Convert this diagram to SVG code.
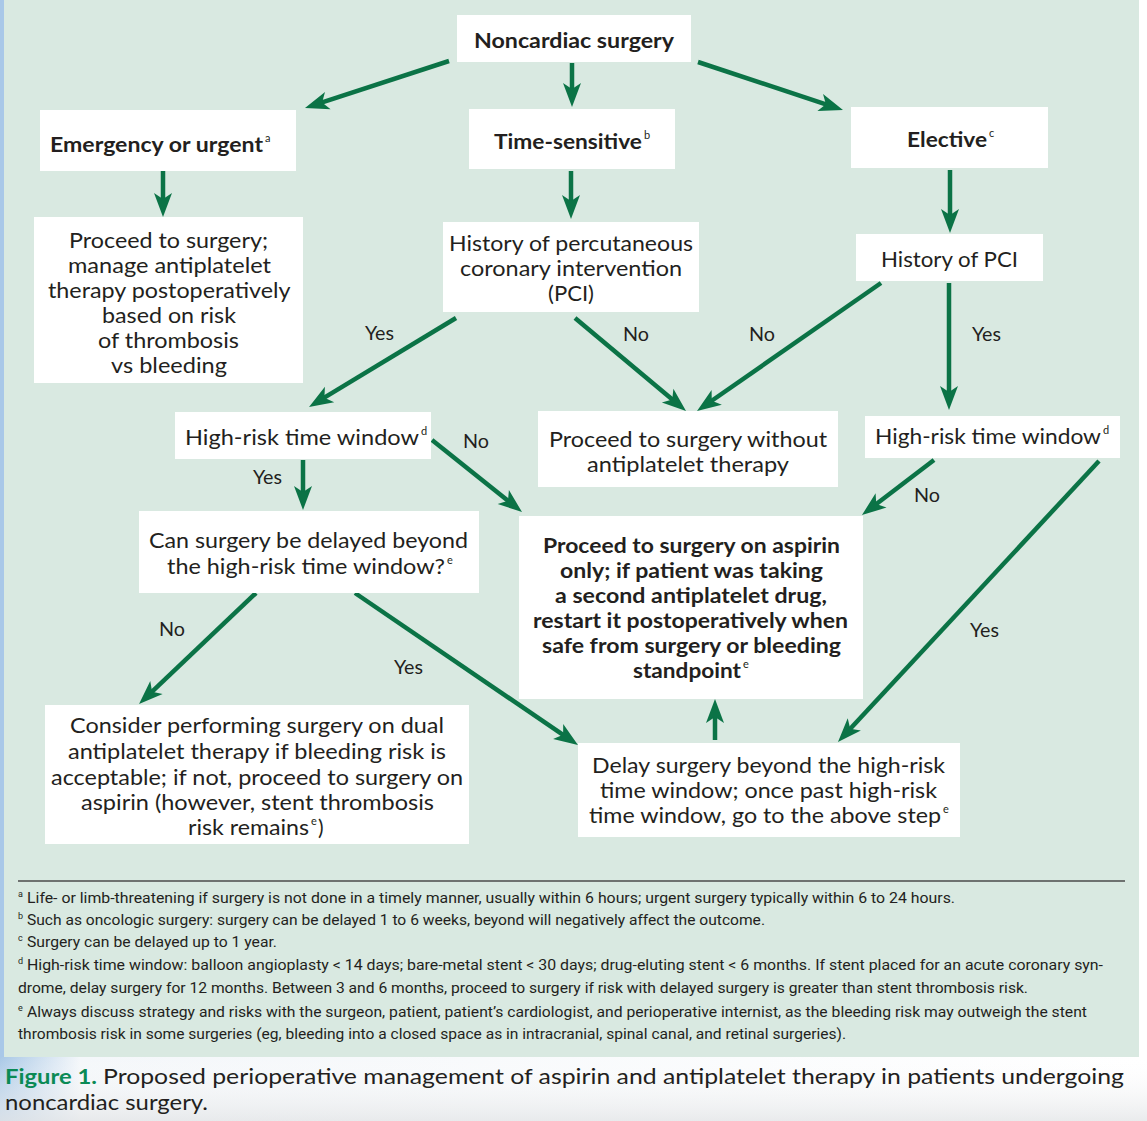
<svg xmlns="http://www.w3.org/2000/svg" width="1147" height="1121" viewBox="0 0 1147 1121">
<defs>
<style>
.box{fill:#ffffff}
.t{font-family:Lato,"Open Sans",sans-serif;font-size:21px;fill:#231f20}
.b{font-weight:700;font-size:21.5px}
.sup{font-size:11px;font-weight:400}
.lbl{font-family:Lato,"Open Sans",sans-serif;font-size:20px;fill:#231f20}
.fn{font-family:Roboto,"Liberation Sans",sans-serif;font-size:15px;fill:#231f20}
.fsup{font-size:9px}
.cap{font-family:Lato,"Open Sans",sans-serif;font-size:21.5px;fill:#231f20}
.arrow{stroke:#0b7346;stroke-width:4.5;fill:none;marker-end:url(#ah)}
</style>
<marker id="ah" markerUnits="userSpaceOnUse" viewBox="-12 -10 30 20" refX="0" refY="0" markerWidth="30" markerHeight="20" orient="auto" overflow="visible">
<path d="M14,0 L-10,-9 L-4,0 L-10,9 Z" fill="#0b7346"/>
</marker>
<linearGradient id="capg" x1="0" y1="0" x2="1" y2="0">
<stop offset="0" stop-color="#a9c8e6"/>
<stop offset="0.07" stop-color="#f4f7fa"/>
<stop offset="1" stop-color="#ffffff"/>
</linearGradient>
<linearGradient id="capv" x1="0" y1="0" x2="0" y2="1">
<stop offset="0" stop-color="#ffffff" stop-opacity="0"/>
<stop offset="1" stop-color="#e4e6e8" stop-opacity="0.8"/>
</linearGradient>
</defs>

<!-- background -->
<rect x="0" y="0" width="1147" height="1121" fill="#ffffff"/>
<rect x="0" y="1057" width="1147" height="64" fill="url(#capg)"/>
<rect x="0" y="1057" width="1147" height="64" fill="url(#capv)"/>
<rect x="0" y="0" width="1139" height="1057" fill="#d9e9e1"/>
<rect x="0" y="0" width="4" height="1057" fill="#a9c8e8"/>

<!-- connectors -->
<g id="connectors">
<line class="arrow" x1="449" y1="61" x2="318.3" y2="103.7"/>
<line class="arrow" x1="572" y1="63" x2="572" y2="93"/>
<line class="arrow" x1="698" y1="62" x2="829.7" y2="105.6"/>
<line class="arrow" x1="163" y1="171" x2="163" y2="203"/>
<line class="arrow" x1="571" y1="171" x2="571" y2="205"/>
<line class="arrow" x1="950" y1="170" x2="950" y2="219"/>
<line class="arrow" x1="456" y1="318" x2="321" y2="399.7"/>
<line class="arrow" x1="575" y1="318" x2="675.3" y2="402"/>
<line class="arrow" x1="881" y1="283" x2="708.5" y2="403"/>
<line class="arrow" x1="949" y1="283" x2="949" y2="396"/>
<line class="arrow" x1="303" y1="460" x2="303" y2="496"/>
<line class="arrow" x1="432" y1="440" x2="511.1" y2="503.3"/>
<line class="arrow" x1="934" y1="460" x2="873.1" y2="506.5"/>
<line class="arrow" x1="1099" y1="461" x2="847.5" y2="731.7"/>
<line class="arrow" x1="256" y1="593" x2="149.2" y2="694.4"/>
<line class="arrow" x1="355" y1="593" x2="566.4" y2="737.1"/>
<line class="arrow" x1="715" y1="740" x2="715" y2="713"/>
</g>

<!-- connector labels -->
<g id="labels">
<text class="lbl" x="365" y="340" textLength="29" lengthAdjust="spacingAndGlyphs">Yes</text>
<text class="lbl" x="623" y="341" textLength="26" lengthAdjust="spacingAndGlyphs">No</text>
<text class="lbl" x="749" y="341" textLength="26" lengthAdjust="spacingAndGlyphs">No</text>
<text class="lbl" x="972" y="341" textLength="29" lengthAdjust="spacingAndGlyphs">Yes</text>
<text class="lbl" x="253" y="484" textLength="29" lengthAdjust="spacingAndGlyphs">Yes</text>
<text class="lbl" x="463" y="448" textLength="26" lengthAdjust="spacingAndGlyphs">No</text>
<text class="lbl" x="914" y="502" textLength="26" lengthAdjust="spacingAndGlyphs">No</text>
<text class="lbl" x="970" y="637" textLength="29" lengthAdjust="spacingAndGlyphs">Yes</text>
<text class="lbl" x="159" y="636" textLength="26" lengthAdjust="spacingAndGlyphs">No</text>
<text class="lbl" x="394" y="674" textLength="29" lengthAdjust="spacingAndGlyphs">Yes</text>
</g>

<!-- nodes -->
<g id="n-noncardiac">
<rect class="box" x="457" y="15" width="234" height="47"/>
<text class="t b" x="474" y="48" textLength="200" lengthAdjust="spacingAndGlyphs">Noncardiac surgery</text>
</g>

<g id="n-emergency">
<rect class="box" x="40" y="110" width="256" height="61"/>
<text class="t b" x="50" y="152" textLength="213" lengthAdjust="spacingAndGlyphs">Emergency or urgent</text>
<text class="t sup" x="265" y="142">a</text>
</g>

<g id="n-timesensitive">
<rect class="box" x="469" y="109" width="206" height="60"/>
<text class="t b" x="494" y="149" textLength="148" lengthAdjust="spacingAndGlyphs">Time-sensitive</text>
<text class="t sup" x="644" y="139">b</text>
</g>

<g id="n-elective">
<rect class="box" x="851" y="107" width="197" height="61"/>
<text class="t b" x="907" y="147" textLength="80" lengthAdjust="spacingAndGlyphs">Elective</text>
<text class="t sup" x="989" y="137">c</text>
</g>

<g id="n-proceed-manage">
<rect class="box" x="34" y="217" width="269" height="166"/>
<text class="t">
<tspan x="69" y="248" textLength="199" lengthAdjust="spacingAndGlyphs">Proceed to surgery;</tspan>
<tspan x="68" y="273" textLength="203" lengthAdjust="spacingAndGlyphs">manage antiplatelet</tspan>
<tspan x="48" y="298" textLength="242" lengthAdjust="spacingAndGlyphs">therapy postoperatively</tspan>
<tspan x="102" y="323" textLength="134" lengthAdjust="spacingAndGlyphs">based on risk</tspan>
<tspan x="98" y="348" textLength="141" lengthAdjust="spacingAndGlyphs">of thrombosis</tspan>
<tspan x="111" y="373" textLength="116" lengthAdjust="spacingAndGlyphs">vs bleeding</tspan>
</text>
</g>

<g id="n-history-pci-long">
<rect class="box" x="443" y="222" width="256" height="90"/>
<text class="t">
<tspan x="449" y="251" textLength="244" lengthAdjust="spacingAndGlyphs">History of percutaneous</tspan>
<tspan x="460" y="276" textLength="222" lengthAdjust="spacingAndGlyphs">coronary intervention</tspan>
<tspan x="548" y="301" textLength="46" lengthAdjust="spacingAndGlyphs">(PCI)</tspan>
</text>
</g>

<g id="n-history-pci">
<rect class="box" x="856" y="234" width="187" height="47"/>
<text class="t" x="881" y="267" textLength="137" lengthAdjust="spacingAndGlyphs">History of PCI</text>
</g>

<g id="n-hrtw-left">
<rect class="box" x="175" y="412" width="256" height="47"/>
<text class="t" x="185" y="445" textLength="234" lengthAdjust="spacingAndGlyphs">High-risk time window</text>
<text class="t sup" x="421" y="435">d</text>
</g>

<g id="n-proceed-without">
<rect class="box" x="538" y="411" width="300" height="76"/>
<text class="t">
<tspan x="549" y="447" textLength="278" lengthAdjust="spacingAndGlyphs">Proceed to surgery without</tspan>
<tspan x="587" y="472" textLength="202" lengthAdjust="spacingAndGlyphs">antiplatelet therapy</tspan>
</text>
</g>

<g id="n-hrtw-right">
<rect class="box" x="865" y="416" width="255" height="42"/>
<text class="t" x="875" y="444" textLength="226" lengthAdjust="spacingAndGlyphs">High-risk time window</text>
<text class="t sup" x="1103" y="434">d</text>
</g>

<g id="n-can-delay">
<rect class="box" x="139" y="511" width="340" height="82"/>
<text class="t">
<tspan x="149" y="548" textLength="319" lengthAdjust="spacingAndGlyphs">Can surgery be delayed beyond</tspan>
<tspan x="167" y="574" textLength="278" lengthAdjust="spacingAndGlyphs">the high-risk time window?</tspan>
</text>
<text class="t sup" x="447" y="564">e</text>
</g>

<g id="n-proceed-aspirin">
<rect class="box" x="519" y="516" width="344" height="183"/>
<text class="t b">
<tspan x="543" y="553" textLength="297" lengthAdjust="spacingAndGlyphs">Proceed to surgery on aspirin</tspan>
<tspan x="560" y="578" textLength="263" lengthAdjust="spacingAndGlyphs">only; if patient was taking</tspan>
<tspan x="555" y="603" textLength="272" lengthAdjust="spacingAndGlyphs">a second antiplatelet drug,</tspan>
<tspan x="533" y="628" textLength="315" lengthAdjust="spacingAndGlyphs">restart it postoperatively when</tspan>
<tspan x="542" y="653" textLength="299" lengthAdjust="spacingAndGlyphs">safe from surgery or bleeding</tspan>
<tspan x="633" y="678" textLength="108" lengthAdjust="spacingAndGlyphs">standpoint</tspan>
</text>
<text class="t sup" x="743" y="668">e</text>
</g>

<g id="n-consider">
<rect class="box" x="45" y="705" width="424" height="139"/>
<text class="t">
<tspan x="70" y="733" textLength="374" lengthAdjust="spacingAndGlyphs">Consider performing surgery on dual</tspan>
<tspan x="68" y="759" textLength="378" lengthAdjust="spacingAndGlyphs">antiplatelet therapy if bleeding risk is</tspan>
<tspan x="51" y="785" textLength="412" lengthAdjust="spacingAndGlyphs">acceptable; if not, proceed to surgery on</tspan>
<tspan x="81" y="810" textLength="353" lengthAdjust="spacingAndGlyphs">aspirin (however, stent thrombosis</tspan>
<tspan x="188" y="835" textLength="121" lengthAdjust="spacingAndGlyphs">risk remains</tspan>
</text>
<text class="t sup" x="311" y="825">e</text>
<text class="t" x="318" y="835">)</text>
</g>

<g id="n-delay">
<rect class="box" x="578" y="743" width="382" height="94"/>
<text class="t">
<tspan x="592" y="773" textLength="353" lengthAdjust="spacingAndGlyphs">Delay surgery beyond the high-risk</tspan>
<tspan x="600" y="798" textLength="337" lengthAdjust="spacingAndGlyphs">time window; once past high-risk</tspan>
<tspan x="589" y="823" textLength="352" lengthAdjust="spacingAndGlyphs">time window, go to the above step</tspan>
</text>
<text class="t sup" x="943" y="813">e</text>
</g>

<!-- footnotes -->
<g id="footnotes">
<line x1="18" y1="881" x2="1125" y2="881" stroke="#4a4a4a" stroke-width="1.5"/>
<text class="fn fsup" x="18" y="897">a</text>
<text class="fn" x="27" y="903" textLength="928" lengthAdjust="spacingAndGlyphs">Life- or limb-threatening if surgery is not done in a timely manner, usually within 6 hours; urgent surgery typically within 6 to 24 hours.</text>
<text class="fn fsup" x="18" y="919">b</text>
<text class="fn" x="27" y="925" textLength="738" lengthAdjust="spacingAndGlyphs">Such as oncologic surgery: surgery can be delayed 1 to 6 weeks, beyond will negatively affect the outcome.</text>
<text class="fn fsup" x="18" y="941">c</text>
<text class="fn" x="27" y="947" textLength="250" lengthAdjust="spacingAndGlyphs">Surgery can be delayed up to 1 year.</text>
<text class="fn fsup" x="18" y="964">d</text>
<text class="fn" x="27" y="970" textLength="1076" lengthAdjust="spacingAndGlyphs">High-risk time window: balloon angioplasty &lt; 14 days; bare-metal stent &lt; 30 days; drug-eluting stent &lt; 6 months. If stent placed for an acute coronary syn-</text>
<text class="fn" x="18" y="993" textLength="1010" lengthAdjust="spacingAndGlyphs">drome, delay surgery for 12 months. Between 3 and 6 months, proceed to surgery if risk with delayed surgery is greater than stent thrombosis risk.</text>
<text class="fn fsup" x="18" y="1011">e</text>
<text class="fn" x="27" y="1017" textLength="1060" lengthAdjust="spacingAndGlyphs">Always discuss strategy and risks with the surgeon, patient, patient’s cardiologist, and perioperative internist, as the bleeding risk may outweigh the stent</text>
<text class="fn" x="18" y="1039" textLength="828" lengthAdjust="spacingAndGlyphs">thrombosis risk in some surgeries (eg, bleeding into a closed space as in intracranial, spinal canal, and retinal surgeries).</text>
</g>

<!-- caption -->
<g id="caption">
<text class="cap" x="5" y="1084" font-weight="700" style="fill:#0a8a55" textLength="92" lengthAdjust="spacingAndGlyphs">Figure 1.</text>
<text class="cap" x="103" y="1084" textLength="1021" lengthAdjust="spacingAndGlyphs">Proposed perioperative management of aspirin and antiplatelet therapy in patients undergoing</text>
<text class="cap" x="5" y="1110" textLength="203" lengthAdjust="spacingAndGlyphs">noncardiac surgery.</text>
</g>
</svg>
